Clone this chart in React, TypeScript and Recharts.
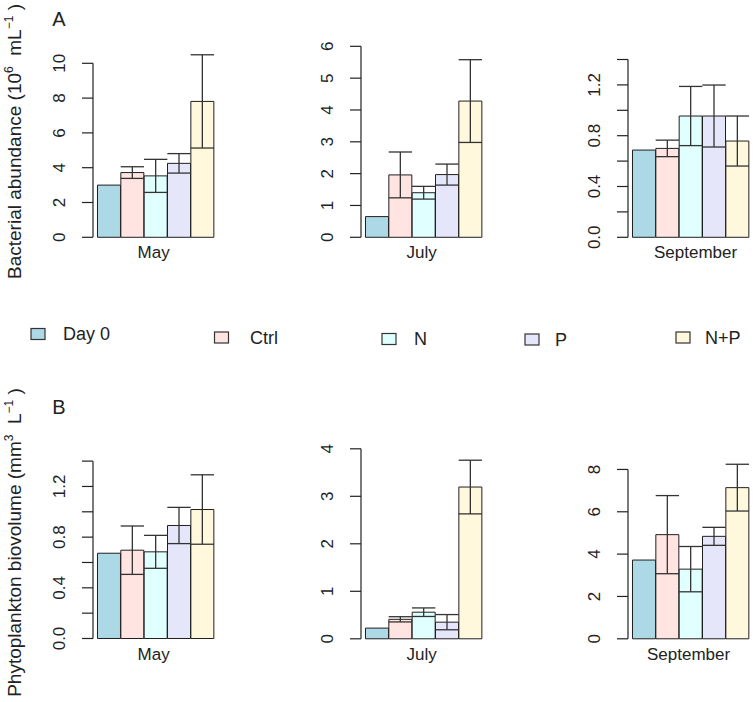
import React from "react";
import { Bar, BarChart, Cell, ErrorBar, XAxis, YAxis } from "recharts";

const treatments = ["Day 0", "Ctrl", "N", "P", "N+P"];
const fills = ["lightblue", "mistyrose", "lightcyan", "lavender", "cornsilk"];
const months = ["May", "July", "September"];

// bacterial abundance (10^6 mL-1), mean and se
const bactMay = [3.0, 3.72, 3.53, 4.25, 7.81];
const bactMaySe = [0, 0.335, 0.95, 0.56, 2.68];
const bactJul = [0.65, 1.96, 1.4, 1.97, 4.28];
const bactJulSe = [0, 0.72, 0.2, 0.33, 1.3];
const bactSep = [0.687, 0.7, 0.955, 0.955, 0.758];
const bactSepSe = [0, 0.065, 0.233, 0.244, 0.197];

// phytoplankton biovolume (mm3 L-1), mean and se
const phytoMay = [0.673, 0.697, 0.684, 0.892, 1.018];
const phytoMaySe = [0, 0.191, 0.13, 0.143, 0.274];
const phytoJul = [0.225, 0.41, 0.56, 0.35, 3.195];
const phytoJulSe = [0, 0.055, 0.09, 0.16, 0.565];
const phytoSep = [3.72, 4.92, 3.29, 4.84, 7.14];
const phytoSepSe = [0, 1.845, 1.07, 0.425, 1.105];

const ticks10 = [0, 2, 4, 6, 8, 10];
const ticks6 = [0, 1, 2, 3, 4, 5, 6];
const ticks14 = [0, 0.2, 0.4, 0.6, 0.8, 1.0, 1.2, 1.4];
const labels14 = [0, 0.4, 0.8, 1.2];
const ticks4 = [0, 1, 2, 3, 4];
const ticks8 = [0, 2, 4, 6, 8];

const FONT = '"Liberation Sans", Arial, sans-serif';

const rows = (means: number[], ses: number[]) =>
  treatments.map((t, i) => ({ t, v: means[i], e: ses[i] }));

type PanelProps = {
  axisX: number;
  zeroY: number;
  plotTop: number;
  unit: number;
  ticks: number[];
  labeled?: number[];
  decimals?: number;
  data: { t: string; v: number; e: number }[];
  month: string;
  labelDx?: number;
};

function Panel(p: PanelProps) {
  const yAxisW = 70;
  const mTop = 10;
  const xAxisH = 40;
  const plotH = p.zeroY - p.plotTop;
  const width = yAxisW + 4.5 + 116.7 + 8;
  const height = mTop + plotH + xAxisH;
  const domainMax = plotH / p.unit;
  const axisLen = p.ticks[p.ticks.length - 1] * p.unit;
  const labeled = p.labeled ?? p.ticks;

  const renderTick = (props: any) => {
    const { x, y, payload, index } = props;
    const v = payload.value as number;
    const show = labeled.some((l) => Math.abs(l - v) < 1e-9);
    const txt = p.decimals ? v.toFixed(p.decimals) : String(v);
    return (
      <g>
        <line x1={x - 11} y1={y} x2={x} y2={y} stroke="#222" strokeWidth={1.2} />
        {index === 0 && (
          <line x1={x} y1={y} x2={x} y2={y - axisLen} stroke="#222" strokeWidth={1.2} />
        )}
        {show && (
          <text
            x={x - 34.4}
            y={y}
            dy="0.36em"
            textAnchor="middle"
            transform={`rotate(-90, ${x - 34.4}, ${y})`}
            fontSize={17}
            fontFamily={FONT}
            fill="#222"
          >
            {txt}
          </text>
        )}
      </g>
    );
  };

  return (
    <div style={{ position: "absolute", left: p.axisX - yAxisW, top: p.plotTop - mTop }}>
      <BarChart
        width={width}
        height={height}
        data={p.data}
        margin={{ top: mTop, right: 8, bottom: 0, left: 0 }}
        barCategoryGap={0}
      >
        <XAxis
          dataKey="t"
          type="category"
          tick={false}
          axisLine={false}
          tickLine={false}
          padding={{ left: 4.5, right: 0 }}
          height={xAxisH}
          label={{
            value: p.month,
            position: "insideTop",
            offset: 9,
            dx: p.labelDx ?? 0,
            fontSize: 17,
            fontFamily: FONT,
            fill: "#222",
          }}
        />
        <YAxis
          type="number"
          domain={[0, domainMax]}
          ticks={p.ticks}
          interval={0}
          width={yAxisW}
          axisLine={false}
          tickLine={false}
          tickSize={0}
          tickMargin={0}
          tick={renderTick}
        />
        <Bar dataKey="v" stroke="#1e1e1e" strokeWidth={1} isAnimationActive={false}>
          {p.data.map((d, i) => (
            <Cell key={d.t} fill={fills[i]} />
          ))}
          <ErrorBar dataKey="e" width={11.67} stroke="#333" strokeWidth={1.3} direction="y" />
        </Bar>
      </BarChart>
    </div>
  );
}

const legendPos = [
  { sx: 31, tx: 63, cy: 334 },
  { sx: 214.5, tx: 250, cy: 337.5 },
  { sx: 382, tx: 414, cy: 339 },
  { sx: 525, tx: 555, cy: 339.5 },
  { sx: 676, tx: 705, cy: 337.5 },
];

export default function App() {
  return (
    <div style={{ position: "absolute", left: 0, top: 0, width: 755, height: 702, background: "#fff" }}>
      <svg width={755} height={702} style={{ position: "absolute", left: 0, top: 0 }}>
        <text x={59} y={18.7} dy="0.36em" textAnchor="middle" fontSize={20} fontFamily={FONT} fill="#222">
          A
        </text>
        <text x={58.8} y={406.7} dy="0.36em" textAnchor="middle" fontSize={20} fontFamily={FONT} fill="#222">
          B
        </text>
        <text
          x={13.7}
          y={141.5}
          dy="0.36em"
          textAnchor="middle"
          transform="rotate(-90, 13.7, 141.5)"
          fontSize={19}
          fontFamily={FONT}
          fill="#222"
        >
          Bacterial abundance (10
          <tspan fontSize={12} dy="-0.6em">6</tspan>
          <tspan dy="0.38em">{"\u00a0\u00a0mL"}</tspan>
          <tspan fontSize={12} dy="-0.6em">{"\u2212"}1</tspan>
          <tspan dy="0.38em">{"\u00a0)"}</tspan>
        </text>
        <text
          x={13.7}
          y={542.5}
          dy="0.36em"
          textAnchor="middle"
          transform="rotate(-90, 13.7, 542.5)"
          fontSize={19}
          fontFamily={FONT}
          fill="#222"
        >
          Phytoplankton biovolume (mm
          <tspan fontSize={12} dy="-0.6em">3</tspan>
          <tspan dy="0.38em">{"\u00a0\u00a0L"}</tspan>
          <tspan fontSize={12} dy="-0.6em">{"\u2212"}1</tspan>
          <tspan dy="0.38em">{"\u00a0)"}</tspan>
        </text>
        {treatments.map((t, i) => (
          <g key={t}>
            <rect
              x={legendPos[i].sx}
              y={legendPos[i].cy - 5.5}
              width={14}
              height={11}
              fill={fills[i]}
              stroke="#333"
              strokeWidth={1.2}
            />
            <text
              x={legendPos[i].tx}
              y={legendPos[i].cy}
              dy="0.36em"
              fontSize={18}
              fontFamily={FONT}
              fill="#222"
            >
              {t}
            </text>
          </g>
        ))}
      </svg>

      <Panel axisX={92.7} zeroY={237.3} plotTop={40} unit={17.4} ticks={ticks10} data={rows(bactMay, bactMaySe)} month={months[0]} />
      <Panel axisX={361} zeroY={237.3} plotTop={40} unit={31.83} ticks={ticks6} data={rows(bactJul, bactJulSe)} month={months[1]} />
      <Panel
        axisX={628.3}
        zeroY={237.3}
        plotTop={40}
        unit={127}
        ticks={ticks14}
        labeled={labels14}
        decimals={1}
        data={rows(bactSep, bactSepSe)}
        month={months[2]}
        labelDx={7}
      />

      <Panel
        axisX={92.7}
        zeroY={638.5}
        plotTop={440}
        unit={126.7}
        ticks={ticks14}
        labeled={labels14}
        decimals={1}
        data={rows(phytoMay, phytoMaySe)}
        month={months[0]}
      />
      <Panel axisX={360.7} zeroY={638.8} plotTop={440} unit={47.5} ticks={ticks4} data={rows(phytoJul, phytoJulSe)} month={months[1]} />
      <Panel axisX={628.3} zeroY={638.8} plotTop={440} unit={21.17} ticks={ticks8} data={rows(phytoSep, phytoSepSe)} month={months[2]} />
    </div>
  );
}
